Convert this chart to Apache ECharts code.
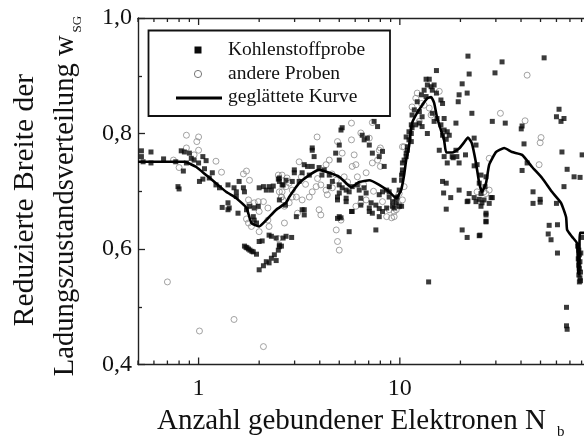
<!DOCTYPE html>
<html><head><meta charset="utf-8">
<script src="https://cdn.jsdelivr.net/npm/echarts@6/dist/echarts.min.js"></script>
<style>html,body{margin:0;padding:0;background:#fff}#c{width:584px;height:445px}</style>
</head><body><div id="c"></div>
<script>
// ---- axis / tick data ----
const xRange = [0.5, 85.1];
const yRange = [0.4, 1.0];
const xTickMajor = [1, 10];
const xTickMinor = [0.5, 0.6, 0.7, 0.8, 0.9, 2, 3, 4, 5, 6, 7, 8, 9, 20, 30, 40, 50, 60, 70, 80];
const xTickLabels = ['1', '10'];
const yTicks = [0.4, 0.6, 0.8, 1.0];
const yTickLabels = ['0,4', '0,6', '0,8', '1,0'];

// ---- legend / titles ----
const legendNames = ['Kohlenstoffprobe', 'andere Proben', 'geglättete Kurve'];
const xTitle = 'Anzahl gebundener Elektronen N';
const xTitleSub = 'b';
const yTitleLine1 = 'Reduzierte Breite der';
const yTitleLine2 = 'Ladungszustandsverteilung w';
const yTitleSub = 'SG';

// ---- series data [N_b, w_SG] ----
const carbonSamples = [
[0.52,0.770],[0.52,0.760],[0.58,0.768],[0.53,0.751],[0.58,0.749],[0.67,0.756],[0.77,0.751],[0.82,0.770],[0.85,0.768],[0.90,0.766],
[0.92,0.757],[0.87,0.749],[0.84,0.735],[0.95,0.754],[1.0,0.749],[1.05,0.760],[1.09,0.753],[1.07,0.739],[1.01,0.717],[1.05,0.721],
[1.13,0.723],[1.17,0.732],[0.79,0.708],[0.80,0.704],[1.22,0.711],[1.27,0.706],[1.40,0.711],[1.50,0.706],[1.54,0.699],[1.59,0.717],
[1.67,0.706],[1.69,0.699],[1.54,0.691],[1.31,0.672],[1.40,0.680],[1.42,0.671],[1.57,0.662],[1.40,0.668],[1.79,0.674],[1.89,0.671],
[1.87,0.656],[1.98,0.674],[2.10,0.708],[2.0,0.706],[2.17,0.702],[2.24,0.708],[2.30,0.702],[2.35,0.709],[2.52,0.717],[2.63,0.711],
[2.49,0.721],[1.73,0.668],[1.89,0.650],[1.94,0.645],[2.30,0.622],[2.63,0.619],[2.52,0.685],[2.70,0.676],
[1.69,0.605],[1.72,0.603],[1.74,0.602],[1.77,0.600],[1.80,0.598],[1.84,0.596],[1.87,0.595],[1.94,0.591],
[2.0,0.613],[2.07,0.614],
[2.0,0.564],[2.10,0.571],[2.17,0.578],[2.24,0.576],[2.30,0.584],[2.38,0.590],[2.43,0.580],[2.49,0.598],[2.58,0.605],
[2.24,0.624],[2.43,0.619],[2.52,0.607],[13.9,0.543],
[5.17,0.810],[5.1,0.806],[7.45,0.821],[7.75,0.812],[6.5,0.797],[6.65,0.789],[6.9,0.792],[7.05,0.780],[7.3,0.766],[7.9,0.760],
[8.2,0.769],[5.0,0.780],[4.8,0.766],[5.0,0.754],[3.67,0.771],[3.75,0.760],[3.35,0.746],[2.99,0.737],[2.99,0.732],[2.92,0.717],
[2.72,0.719],[2.52,0.723],[2.6,0.711],[3.27,0.732],[3.48,0.743],[3.67,0.743],[3.55,0.728],[3.97,0.741],[4.21,0.737],[4.46,0.728],
[4.62,0.717],[5.0,0.711],[5.17,0.706],[5.0,0.697],[5.41,0.702],[5.6,0.699],[5.8,0.708],[6.15,0.711],[6.28,0.702],[6.65,0.706],
[6.8,0.697],[6.4,0.688],[7.2,0.680],[7.05,0.671],[7.6,0.676],[7.9,0.694],[8.2,0.699],[8.6,0.702],[8.85,0.699],[8.85,0.690],
[9.2,0.682],[9.37,0.671],[9.6,0.680],[9.7,0.690],[9.37,0.719],[10.2,0.728],[10.3,0.737],[10.5,0.754],[10.75,0.766],[10.9,0.777],
[11.1,0.789],[10.75,0.794],[11.4,0.800],[11.5,0.810],[12.0,0.815],[12.5,0.818],[8.2,0.665],[8.6,0.671],[7.3,0.662],[7.9,0.656],
[5.75,0.665],[4.9,0.690],[4.9,0.685],[5.41,0.688],[5.41,0.682],[5.0,0.656],[5.1,0.654],[5.6,0.630],[7.6,0.633],[3.35,0.668],
[3.06,0.656],[2.72,0.622],[2.9,0.620],[2.52,0.604],[4.1,0.728],[3.16,0.717],[4.46,0.708],[3.67,0.775],[3.27,0.668],[3.35,0.659],
[4.9,0.653],[5.8,0.665],[6.4,0.676],[7.05,0.665],[7.9,0.670],[9.2,0.674],[9.93,0.674],[10.2,0.674],[9.6,0.688],[9.93,0.702],
[10.2,0.719],[8.36,0.743],
[21.8,0.934],[15.2,0.909],[22.1,0.903],[20.4,0.886],[21.6,0.870],[19.7,0.867],[19.5,0.855],[22.8,0.835],[13.5,0.894],[14.0,0.894],
[13.7,0.884],[14.3,0.881],[14.8,0.884],[13.2,0.875],[14.5,0.875],[15.2,0.870],[12.8,0.867],[13.5,0.864],[16.0,0.858],[16.3,0.852],
[12.2,0.855],[11.8,0.841],[11.5,0.832],[12.5,0.838],[12.9,0.829],[14.5,0.835],[14.8,0.821],[15.3,0.826],[16.6,0.826],[16.0,0.815],
[16.6,0.806],[17.2,0.803],[17.6,0.797],[16.3,0.797],[17.0,0.790],[19.0,0.818],[13.7,0.800],[12.9,0.812],[11.4,0.815],[11.1,0.803],
[11.4,0.786],[10.9,0.771],[10.75,0.760],[10.3,0.749],[10.3,0.731],[15.7,0.771],[16.6,0.760],[17.2,0.749],[18.2,0.760],[19.2,0.760],
[19.7,0.749],[21.2,0.763],[19.0,0.771],[16.3,0.717],[17.0,0.714],[16.5,0.697],[17.9,0.689],[19.7,0.702],[22.1,0.696],[21.6,0.682],
[17.0,0.669],[23.4,0.792],[23.9,0.780],[24.2,0.746],[24.8,0.714],[25.3,0.696],[26.2,0.685],[26.8,0.659],[18.4,0.758],[21.8,0.683],
[23.4,0.689],[23.9,0.682],[24.8,0.686],[25.3,0.674],[25.6,0.680],[26.8,0.648],[20.4,0.633],[21.6,0.620],[24.8,0.623],[28.4,0.689],
[25.3,0.728],[23.4,0.744],
[32.2,0.924],[29.7,0.905],[52.1,0.931],[28.8,0.821],[33.4,0.818],[40.1,0.808],[40.5,0.813],[41.4,0.782],[61.8,0.842],[60.0,0.829],
[65.4,0.826],[63.2,0.821],[63.9,0.768],[80.5,0.763],[42.9,0.749],[40.5,0.736],[67.8,0.738],[73.4,0.725],[78.6,0.724],[65.4,0.708],
[45.9,0.699],[49.8,0.686],[49.8,0.681],[45.9,0.679],[60.0,0.679],[26.5,0.708],[26.8,0.725],[28.8,0.689],[27.8,0.679],[26.8,0.662],
[26.8,0.647],[25.0,0.624],[55.2,0.641],[60.7,0.642],[54.6,0.626],[56.4,0.616],[60.7,0.593],[67.3,0.499],[67.3,0.467],[67.8,0.461],
[76.5,0.605],[77.5,0.598],[78.0,0.590],[77.0,0.583],[78.5,0.578],[77.5,0.572],[78.0,0.566],[79.0,0.560],[77.5,0.555],[78.5,0.550],
[79.0,0.545],[78.0,0.543],[79.3,0.593],[80.0,0.620]
];

const otherSamples = [
[0.87,0.797],[1.0,0.794],[0.98,0.786],[0.87,0.775],[1.0,0.771],[0.95,0.763],[0.75,0.754],[0.80,0.741],[1.22,0.752],[1.30,0.733],
[1.67,0.730],[1.73,0.735],[1.79,0.719],[1.77,0.685],[1.79,0.676],[1.89,0.680],[2.10,0.682],[2.0,0.665],[1.73,0.652],[1.77,0.645],
[1.83,0.639],[2.0,0.630],[2.21,0.650],[2.24,0.639],[2.21,0.671],[2.52,0.699],[2.58,0.690],[2.49,0.728],[2.63,0.685],[2.49,0.618],
[1.98,0.682],[0.70,0.543],[1.01,0.458],[1.50,0.478],[2.10,0.431],
[5.75,0.818],[3.88,0.794],[5.75,0.789],[5.17,0.766],[5.93,0.763],[6.05,0.746],[5.8,0.743],[6.8,0.732],[7.3,0.749],[7.75,0.754],
[7.9,0.771],[8.0,0.743],[4.46,0.754],[4.3,0.746],[3.16,0.751],[3.24,0.725],[2.82,0.714],[2.72,0.708],[2.6,0.699],[2.92,0.702],
[3.06,0.690],[3.27,0.685],[3.55,0.690],[3.67,0.699],[3.84,0.708],[4.05,0.711],[4.3,0.702],[4.36,0.694],[4.62,0.706],[4.83,0.719],
[5.29,0.725],[6.15,0.725],[6.4,0.680],[6.05,0.674],[6.8,0.685],[2.67,0.674],[2.82,0.680],[3.1,0.662],[3.97,0.668],[4.05,0.659],
[4.83,0.633],[4.9,0.613],[5.0,0.598],[2.67,0.645],[8.2,0.682],[8.85,0.668],[9.1,0.654],[9.37,0.656],[9.6,0.668],[9.93,0.676],
[10.3,0.685],[10.5,0.708],[10.5,0.777],[8.6,0.656],[9.93,0.696],[4.9,0.786],[6.4,0.801],[7.05,0.792],[7.3,0.819],[5.1,0.650],
[2.6,0.728],[2.75,0.723],[2.58,0.690],[2.92,0.690],[3.4,0.712],[3.9,0.722],[4.6,0.730],[5.5,0.716],[6.6,0.712],[7.4,0.700],
[12.2,0.870],[12.0,0.861],[12.8,0.852],[13.2,0.849],[15.7,0.873],[14.0,0.844],[14.3,0.832],[12.5,0.821],[11.5,0.846],[10.3,0.777],
[8.0,0.775],[26.8,0.696],[24.2,0.699],[9.37,0.679],[9.93,0.674],[27.8,0.702],[26.2,0.699],[9.37,0.665],
[42.9,0.901],[31.6,0.835],[41.9,0.822],[50.3,0.793],[49.8,0.784],[49.2,0.746],[27.8,0.757]
];

const smoothCurve = [
[0.5,0.751],[0.569,0.751],[0.715,0.751],[0.849,0.751],[0.974,0.742],[1.09,0.728],[1.22,0.714],[1.37,0.699],[1.54,0.688],[1.73,0.671],
[1.83,0.645],[2.0,0.639],[2.17,0.650],[2.43,0.668],[2.72,0.680],[2.82,0.690],[3.16,0.714],[3.55,0.728],[3.97,0.737],[4.46,0.732],
[5.0,0.725],[5.41,0.714],[5.73,0.707],[6.28,0.716],[7.05,0.719],[7.9,0.711],[8.85,0.699],[9.59,0.688],[10.15,0.702],[10.5,0.728],
[10.75,0.754],[11.1,0.777],[11.5,0.818],[12.2,0.836],[12.9,0.849],[13.7,0.861],[14.3,0.863],[14.8,0.853],[15.3,0.828],[16.0,0.806],
[16.6,0.788],[17.0,0.767],[18.2,0.767],[19.7,0.774],[20.9,0.785],[21.8,0.793],[22.8,0.783],[23.9,0.749],[24.8,0.714],[25.6,0.699],
[26.8,0.714],[27.8,0.746],[30.1,0.768],[33.0,0.775],[36.1,0.768],[40.5,0.763],[45.4,0.742],[50.9,0.723],[57.0,0.699],[63.2,0.680],
[67.0,0.655],[67.8,0.633],[71.8,0.621],[75.9,0.610],[77.0,0.558],[77.9,0.556],[78.4,0.628],[85.0,0.628]
];

// ---- chart ----
const FONT = 'Liberation Serif';
const INK = '#111';
const AXIS = '#222';
const chart = echarts.init(document.getElementById('c'), null, {renderer: 'canvas'});

const tickData = xTickMajor.map(v => ({value: [v, 0.7], major: true}))
  .concat(xTickMinor.map(v => ({value: [v, 0.7], major: false})));

chart.setOption({
  animation: false,
  backgroundColor: '#fff',
  grid: {left: 138, top: 18, right: -3, bottom: 80.5, containLabel: false, outerBoundsMode: 'none'},
  xAxis: [{
    type: 'log', logBase: 10, min: xRange[0], max: xRange[1],
    axisLine: {show: true, onZero: false, lineStyle: {color: AXIS, width: 1.4}},
    axisTick: {show: false},
    splitLine: {show: false},
    minorTick: {show: false},
    axisLabel: {
      show: true, margin: 12, fontFamily: FONT, fontSize: 24, color: INK,
      formatter: v => {
        const i = xTickMajor.findIndex(t => Math.abs(t - v) < 1e-6 * t);
        return i >= 0 ? xTickLabels[i] : '';
      }
    }
  }, {
    type: 'log', logBase: 10, min: xRange[0], max: xRange[1], position: 'top',
    axisLine: {show: true, onZero: false, lineStyle: {color: AXIS, width: 1.4}},
    axisTick: {show: false}, axisLabel: {show: false}, splitLine: {show: false}
  }],
  yAxis: {
    type: 'value', min: yRange[0], max: yRange[1], interval: 0.2,
    axisLine: {show: true, onZero: false, lineStyle: {color: AXIS, width: 1.4}},
    axisTick: {show: true, inside: true, length: 7, lineStyle: {color: AXIS, width: 1.3}},
    minorTick: {show: true, splitNumber: 2, length: 4, lineStyle: {color: AXIS, width: 1.3}},
    splitLine: {show: false},
    axisLabel: {
      margin: 6, fontFamily: FONT, fontSize: 24, color: INK,
      formatter: v => {
        const i = yTicks.findIndex(t => Math.abs(t - v) < 1e-6);
        return i >= 0 ? yTickLabels[i] : '';
      }
    }
  },
  series: [
    {
      type: 'custom', name: 'ticks', clip: false, silent: true, z: 6,
      data: tickData,
      renderItem: (params, api) => {
        const v = api.value(0);
        const item = tickData[params.dataIndex];
        const len = item.major ? 7 : 4;
        const pb = api.coord([v, yRange[0]]);
        const pt = api.coord([v, yRange[1]]);
        return {type: 'group', children: [
          {type: 'line', shape: {x1: pb[0], y1: pb[1], x2: pb[0], y2: pb[1] - len}, style: {stroke: AXIS, lineWidth: 1.3}},
          {type: 'line', shape: {x1: pt[0], y1: pt[1], x2: pt[0], y2: pt[1] + len}, style: {stroke: AXIS, lineWidth: 1.3}}
        ]};
      }
    },
    {
      type: 'scatter', name: legendNames[1], data: otherSamples,
      symbol: 'circle', symbolSize: 6,
      itemStyle: {color: 'rgba(255,255,255,0)', borderColor: '#8c8c8c', borderWidth: 1}
    },
    {
      type: 'scatter', name: legendNames[0], data: carbonSamples,
      symbol: 'rect', symbolSize: 5,
      itemStyle: {color: '#0a0a0a'}
    },
    {
      type: 'line', name: legendNames[2], data: smoothCurve,
      showSymbol: false, smooth: 0.15, clip: true,
      lineStyle: {color: '#000', width: 2.6}, z: 4
    }
  ],
  graphic: [
    // legend box
    {type: 'rect', z: 100, shape: {x: 148.5, y: 30.5, width: 241.5, height: 85.5},
      style: {fill: '#fff', stroke: '#111', lineWidth: 1.8}},
    {type: 'rect', z: 101, shape: {x: 194.5, y: 46.5, width: 7, height: 7}, style: {fill: '#0a0a0a'}},
    {type: 'circle', z: 101, shape: {cx: 198, cy: 74, r: 3.6}, style: {fill: '#fff', stroke: '#777', lineWidth: 1}},
    {type: 'line', z: 101, shape: {x1: 176, y1: 98, x2: 222, y2: 98}, style: {stroke: '#000', lineWidth: 3}},
    {type: 'text', z: 101, x: 228, y: 50, style: {text: legendNames[0], font: '19.5px "' + FONT + '"', fill: INK, verticalAlign: 'middle', align: 'left'}},
    {type: 'text', z: 101, x: 228, y: 74, style: {text: legendNames[1], font: '19.5px "' + FONT + '"', fill: INK, verticalAlign: 'middle', align: 'left'}},
    {type: 'text', z: 101, x: 228, y: 97, style: {text: legendNames[2], font: '19.5px "' + FONT + '"', fill: INK, verticalAlign: 'middle', align: 'left'}},
    // x title
    {type: 'text', z: 101, x: 157, y: 421,
      style: {
        text: '{m|' + xTitle + '}{s|' + xTitleSub + '}',
        align: 'left', verticalAlign: 'middle', fill: INK,
        rich: {
          m: {fontFamily: FONT, fontSize: 29, color: INK},
          s: {fontFamily: FONT, fontSize: 15, color: INK, padding: [22, 0, 0, 11]}
        }
      }},
    // y title
    {type: 'text', z: 101, x: 25, y: 200, rotation: Math.PI / 2,
      style: {text: yTitleLine1, font: '29.5px "' + FONT + '"', fill: INK, align: 'center', verticalAlign: 'middle'}},
    {type: 'text', z: 101, x: 65, y: 196, rotation: Math.PI / 2,
      style: {
        text: '{m|' + yTitleLine2 + '}{s|' + yTitleSub + '}',
        align: 'center', verticalAlign: 'middle', fill: INK,
        rich: {
          m: {fontFamily: FONT, fontSize: 28.6, color: INK},
          s: {fontFamily: FONT, fontSize: 13, color: INK, padding: [26, 0, 0, 3]}
        }
      }}
  ]
});
</script></body></html>
